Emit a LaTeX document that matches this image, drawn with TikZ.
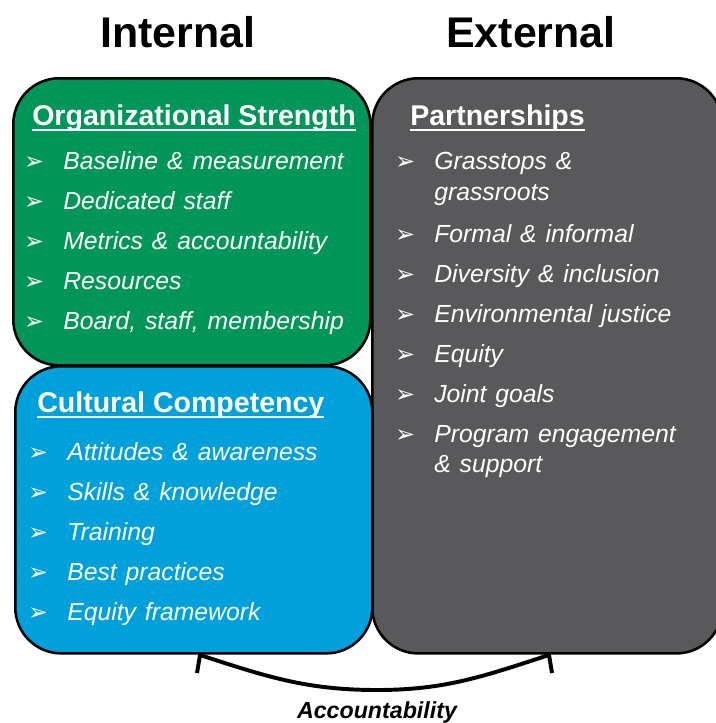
\documentclass[tikz,border=0pt]{standalone}
\usepackage{fontspec}
\setmainfont{Liberation Sans}
\newfontfamily\bulfont{DejaVu Sans}
\usetikzlibrary{positioning,calc}

\definecolor{orggreen}{RGB}{0,150,90}
\definecolor{cultblue}{RGB}{0,160,218}
\definecolor{partgray}{RGB}{89,89,91}

% underlined panel titles, arrow bullets hanging left of the item text
\newcommand{\uln}[1]{\setbox0\hbox{#1}\rlap{\rule[-4.4pt]{\wd0}{1.4pt}}\box0}
\newcommand{\bul}{\llap{{\bulfont\fontsize{17}{17}\selectfont ➢}\hspace{0.48cm}}}
\newcommand{\itemfont}{\fontsize{17.6}{21}\selectfont\itshape\spaceskip=0.36em plus 0.1em\relax}

\begin{document}
\begin{tikzpicture}[x=0.025cm, y=-0.025cm,
  panel/.style={draw, line width=1.8pt, rounded corners=1.15cm, anchor=north west, inner sep=0pt},
  heading/.style={font=\fontsize{30.5}{36}\selectfont\bfseries, anchor=base},
  boxtitle/.style={font=\fontsize{20.3}{24}\selectfont\bfseries, text=white, anchor=base west, inner sep=0pt},
  item/.style={font=\itemfont, text=white, anchor=base west, inner sep=0pt},
]
  \useasboundingbox (0,0) rectangle (716,723);

  % the three panels
  \node[panel, fill=partgray, minimum width=8.75cm,  minimum height=14.375cm] (part) at (371,77) {};
  \node[panel, fill=orggreen, minimum width=8.925cm, minimum height=7.175cm]  (org)  at (12,77)  {};
  \node[panel, fill=cultblue, minimum width=8.925cm, minimum height=7.175cm]  (cult) at (14,365) {};

  \node[heading] (int) at (178,47) {Internal};
  \node[heading] (ext) at (531,47) {External};

  % internal: organizational strength
  \node[boxtitle] (orgT) at (32,125) {\uln{Organizational Strength}};
  \foreach \txt [count=\i from 0] in {Baseline \& measurement, Dedicated staff,
      Metrics \& accountability, Resources, {Board, staff, membership}}
    \node[item] (org\i) at (63,169+40*\i) {\bul\txt};

  % internal: cultural competency
  \node[boxtitle] (cultT) at (37,412) {\uln{Cultural Competency}};
  \foreach \txt [count=\i from 0] in {Attitudes \& awareness, Skills \& knowledge,
      Training, Best practices, Equity framework}
    \node[item] (cult\i) at (67,460+40*\i) {\bul\txt};

  % external: partnerships
  \node[boxtitle] (partT) at (410,125) {\uln{Partnerships}};
  \node[item] (part0) at (434,169) {\bul Grasstops \&};
  \node[item] (part0b) at ($(part0.base west)+(0,31)$) {grassroots};
  \foreach \txt [count=\i from 1] in {Formal \& informal, Diversity \& inclusion,
      Environmental justice, Equity, Joint goals, Program engagement}
    \node[item] (part\i) at (434,202+40*\i) {\bul\txt};
  \node[item] (part6b) at ($(part6.base west)+(0,30)$) {\& support};

  % accountability bracket under both sides
  \coordinate (accL) at (200,655);
  \coordinate (accR) at (549,655);
  \coordinate (accM) at (377,690);
  \draw[line width=2.8pt] ($(accL)+(-3,18)$) -- (accL) to[out=-18,in=180] (accM)
    to[out=0,in=198] (accR) -- ($(accR)+(3,18)$);
  \node[font=\fontsize{16.5}{20}\selectfont\bfseries\itshape, anchor=base] (acc) at (377,718) {Accountability};
\end{tikzpicture}
\end{document}
